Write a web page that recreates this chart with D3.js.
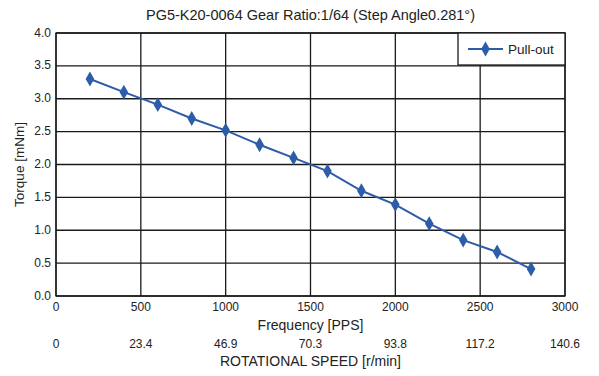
<!DOCTYPE html>
<html>
<head>
<meta charset="utf-8">
<script src="https://cdn.jsdelivr.net/npm/d3@7"></script>
<style>
  body { margin: 0; background: #fff; }
  svg { display: block; overflow: visible; }
  text { font-family: "Liberation Sans", Arial, sans-serif; fill: #222; }
</style>
</head>
<body>
<div id="chart"></div>
<script>
const freq = [200, 400, 600, 800, 1000, 1200, 1400, 1600, 1800, 2000, 2200, 2400, 2600, 2800];
const torque = [3.3, 3.1, 2.91, 2.7, 2.52, 2.3, 2.1, 1.9, 1.6, 1.39, 1.1, 0.85, 0.67, 0.41];
const xTicks = [0, 500, 1000, 1500, 2000, 2500, 3000];
const speedLabels = ["0", "23.4", "46.9", "70.3", "93.8", "117.2", "140.6"];
const yTicks = [0, 0.5, 1, 1.5, 2, 2.5, 3, 3.5, 4];

const width = 599, height = 376;
const margin = { left: 56, right: 34, top: 33, bottom: 80 };
const innerWidth = width - margin.left - margin.right;
const innerHeight = height - margin.top - margin.bottom;
const color = "#2d5ca8";

const svg = d3.select("#chart").append("svg")
  .attr("width", width)
  .attr("height", height);

const g = svg.append("g")
  .attr("transform", `translate(${margin.left},${margin.top})`);

const xScale = d3.scaleLinear().domain([0, 3000]).range([0, innerWidth]);
const yScale = d3.scaleLinear().domain([0, 4]).range([innerHeight, 0]);

// grid
g.selectAll(".vgrid").data(xTicks).join("line")
  .attr("x1", d => xScale(d)).attr("x2", d => xScale(d))
  .attr("y1", 0).attr("y2", innerHeight)
  .attr("stroke", "#1a1a1a").attr("stroke-width", 1.3);
g.selectAll(".hgrid").data(yTicks).join("line")
  .attr("x1", 0).attr("x2", innerWidth)
  .attr("y1", d => yScale(d)).attr("y2", d => yScale(d))
  .attr("stroke", "#1a1a1a").attr("stroke-width", 1.3);

g.append("rect")
  .attr("width", innerWidth).attr("height", innerHeight)
  .attr("fill", "none").attr("stroke", "#1a1a1a").attr("stroke-width", 1.3);

// y tick labels
g.selectAll(".ylab").data(yTicks).join("text")
  .attr("x", -5).attr("y", d => yScale(d))
  .attr("dy", "0.3em")
  .attr("text-anchor", "end")
  .attr("font-size", 12)
  .text(d => d.toFixed(1));

// x tick labels
g.selectAll(".xlab").data(xTicks).join("text")
  .attr("x", d => xScale(d)).attr("y", innerHeight + 15)
  .attr("text-anchor", "middle")
  .attr("font-size", 12)
  .text(d => d);

g.selectAll(".slab").data(speedLabels).join("text")
  .attr("x", (d, i) => xScale(xTicks[i])).attr("y", innerHeight + 52)
  .attr("text-anchor", "middle")
  .attr("font-size", 12)
  .text(d => d);

g.append("text")
  .attr("x", innerWidth / 2).attr("y", innerHeight + 34)
  .attr("text-anchor", "middle").attr("font-size", 14)
  .text("Frequency [PPS]");

g.append("text")
  .attr("x", innerWidth / 2).attr("y", innerHeight + 70)
  .attr("text-anchor", "middle").attr("font-size", 14)
  .text("ROTATIONAL SPEED [r/min]");

svg.append("text")
  .attr("transform", `translate(24,${margin.top + innerHeight / 2}) rotate(-90)`)
  .attr("text-anchor", "middle").attr("font-size", 13.5)
  .text("Torque [mNm]");

svg.append("text")
  .attr("x", margin.left + innerWidth / 2).attr("y", 20)
  .attr("text-anchor", "middle").attr("font-size", 14.5)
  .text("PG5-K20-0064 Gear Ratio:1/64 (Step Angle0.281°)");

// line
const points = freq.map((f, i) => ({ f, t: torque[i] }));
const line = d3.line().x(d => xScale(d.f)).y(d => yScale(d.t));

g.append("path")
  .attr("d", line(points))
  .attr("fill", "none")
  .attr("stroke", color)
  .attr("stroke-width", 2);

const diamond = d3.symbol().type(d3.symbolDiamond).size(64);
g.selectAll(".pt").data(points).join("path")
  .attr("transform", d => `translate(${xScale(d.f)},${yScale(d.t)})`)
  .attr("d", diamond)
  .attr("fill", color);

// legend
const lg = g.append("g").attr("transform", `translate(${innerWidth - 107},0)`);
lg.append("rect")
  .attr("width", 107).attr("height", 32)
  .attr("fill", "#fff").attr("stroke", "#1a1a1a").attr("stroke-width", 1.3);
lg.append("line")
  .attr("x1", 10).attr("x2", 45).attr("y1", 16).attr("y2", 16)
  .attr("stroke", color).attr("stroke-width", 2);
lg.append("path")
  .attr("transform", "translate(27.5,16)")
  .attr("d", diamond).attr("fill", color);
lg.append("text")
  .attr("x", 50).attr("y", 16).attr("dy", "0.35em")
  .attr("font-size", 13.5)
  .text("Pull-out");
</script>
</body>
</html>
